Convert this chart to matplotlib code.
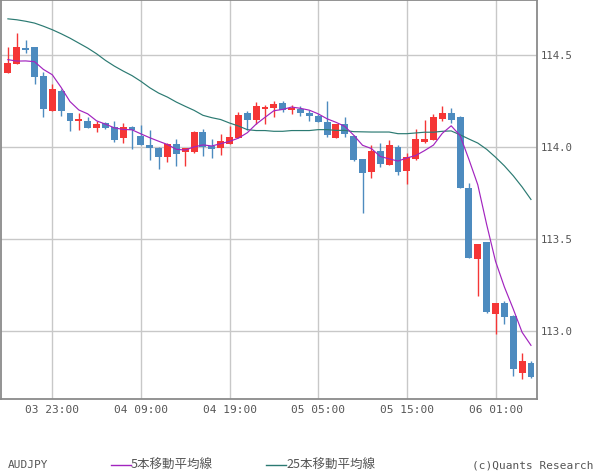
import numpy as np
import matplotlib
matplotlib.use("Agg")
import matplotlib.pyplot as plt
from matplotlib.lines import Line2D

# hourly candles, 03 18:00 .. 06 05:00
opens = [114.404, 114.455, 114.538, 114.545, 114.386, 114.197, 114.306, 114.185, 114.143, 114.141,
         114.105, 114.133, 114.110, 114.053, 114.110, 114.060, 114.013, 113.998, 113.947, 114.016,
         113.976, 113.973, 114.085, 114.005, 113.996, 114.020, 114.053, 114.186, 114.147, 114.208,
         114.212, 114.241, 114.205, 114.208, 114.186, 114.168, 114.140, 114.051, 114.125, 114.064,
         113.935, 113.866, 113.978, 113.902, 114.000, 113.870, 113.935, 114.029, 114.038, 114.152,
         114.185, 114.163, 113.781, 113.393, 113.484, 113.094, 113.152, 113.083, 112.773, 112.828]
highs = [114.545, 114.621, 114.582, 114.545, 114.409, 114.346, 114.319, 114.185, 114.185, 114.165,
         114.143, 114.136, 114.143, 114.132, 114.116, 114.120, 114.092, 114.000, 114.023, 114.045,
         113.995, 114.089, 114.098, 114.043, 114.074, 114.114, 114.194, 114.197, 114.245, 114.230,
         114.253, 114.252, 114.230, 114.223, 114.205, 114.179, 114.250, 114.129, 114.163, 114.065,
         113.935, 114.011, 114.022, 114.038, 114.015, 113.967, 114.098, 114.147, 114.181, 114.224,
         114.212, 114.170, 113.808, 113.473, 113.484, 113.152, 113.163, 113.087, 112.882, 112.837]
lows = [114.404, 114.451, 114.512, 114.346, 114.165, 114.197, 114.170, 114.089, 114.092, 114.103,
        114.083, 114.098, 114.027, 114.023, 113.991, 114.013, 113.929, 113.882, 113.920, 113.897,
        113.897, 113.969, 113.955, 113.942, 113.958, 114.020, 114.053, 114.092, 114.129, 114.129,
        114.165, 114.190, 114.183, 114.172, 114.143, 114.136, 114.056, 114.051, 114.056, 113.926,
        113.641, 113.833, 113.893, 113.902, 113.848, 113.799, 113.929, 114.023, 114.038, 114.141,
        114.130, 113.779, 113.395, 113.192, 113.099, 112.985, 113.040, 112.757, 112.741, 112.743]
closes = [114.458, 114.545, 114.527, 114.382, 114.208, 114.315, 114.197, 114.143, 114.152, 114.105,
          114.125, 114.104, 114.042, 114.110, 114.096, 114.013, 113.998, 113.947, 114.020, 113.966,
          113.995, 114.082, 114.002, 113.988, 114.033, 114.054, 114.174, 114.147, 114.223, 114.219,
          114.234, 114.205, 114.216, 114.186, 114.168, 114.136, 114.067, 114.125, 114.072, 113.929,
          113.860, 113.978, 113.909, 114.011, 113.866, 113.946, 114.043, 114.043, 114.163, 114.185,
          114.149, 113.779, 113.395, 113.473, 113.103, 113.152, 113.078, 112.795, 112.837, 112.750]

ma5 = [114.477, 114.469, 114.470, 114.466, 114.424, 114.395, 114.326, 114.249, 114.203, 114.182,
       114.144, 114.126, 114.106, 114.097, 114.095, 114.073, 114.052, 114.033, 114.015, 113.989,
       113.985, 114.002, 114.013, 114.007, 114.020, 114.032, 114.050, 114.079, 114.126, 114.163,
       114.199, 114.206, 114.219, 114.212, 114.202, 114.182, 114.155, 114.136, 114.114, 114.066,
       114.011, 113.993, 113.950, 113.937, 113.925, 113.942, 113.955, 113.982, 114.012, 114.076,
       114.117, 114.064, 113.934, 113.796, 113.580, 113.380, 113.240, 113.120, 112.993, 112.922]
ma25 = [114.699, 114.694, 114.686, 114.676, 114.659, 114.640, 114.618, 114.594, 114.567, 114.540,
        114.509, 114.473, 114.442, 114.415, 114.390, 114.359, 114.324, 114.295, 114.273, 114.246,
        114.223, 114.201, 114.174, 114.161, 114.151, 114.132, 114.116, 114.096, 114.091, 114.091,
        114.087, 114.087, 114.091, 114.091, 114.091, 114.096, 114.096, 114.092, 114.092, 114.085,
        114.084, 114.083, 114.083, 114.083, 114.074, 114.074, 114.078, 114.082, 114.082, 114.087,
        114.089, 114.068, 114.045, 114.023, 113.989, 113.946, 113.899, 113.845, 113.784, 113.716]

tick_pos = [5, 15, 25, 35, 45, 55]
tick_labels = ['03 23:00', '04 09:00', '04 19:00', '05 05:00', '05 15:00', '06 01:00']
y_ticks = [113.0, 113.5, 114.0, 114.5]

RED = '#f53636'
BLUE = '#4d8bbf'

o = np.array(opens)
c = np.array(closes)
x = np.arange(len(o))
cols = [RED if cc >= oo else BLUE for oo, cc in zip(o, c)]

fig = plt.figure(figsize=(6, 4.75), dpi=100)
ax = fig.add_axes([0.0015, 0.16, 0.8935, 0.839])

ax.vlines(x, lows, highs, colors=cols, linewidth=1.0, zorder=2)
body = np.where(np.abs(c - o) < 0.008, 0.008, c - o)
ax.bar(x, body, bottom=o, width=0.78, color=cols, linewidth=0, zorder=3)

ax.plot(x, ma25, color='#2b7a72', linewidth=0.85, zorder=4)
ax.plot(x, ma5, color='#a224bf', linewidth=0.85, zorder=4)

ax.set_xlim(-0.79, 59.68)
ax.set_ylim(112.63, 114.799)
ax.set_xticks(tick_pos)
ax.set_xticklabels(tick_labels, family='DejaVu Sans Mono', fontsize=8, color='#555555')
ax.yaxis.tick_right()
ax.set_yticks(y_ticks)
ax.set_yticklabels(['%.1f' % v for v in y_ticks], family='DejaVu Sans Mono', fontsize=7.7, color='#555555')
ax.tick_params(length=0, pad=3)
ax.tick_params(axis='x', pad=4)
ax.grid(True, color='#c8c8c8', linewidth=1.0, zorder=0)
ax.set_axisbelow(True)
for s in ax.spines.values():
    s.set_color('#8a8a8a')
    s.set_linewidth(1.3)

# footer
fy = 1 - 465 / 475
fig.text(8 / 600, fy, 'AUDJPY', family='DejaVu Sans Mono', fontsize=8,
         color='#555555', va='center', ha='left')
fig.add_artist(Line2D([111 / 600, 131 / 600], [fy, fy], color='#a224bf', linewidth=1.0))
fig.text(131 / 600, fy, '5本移動平均線', family=['Noto Sans CJK JP', 'DejaVu Sans'],
         fontsize=9, color='#555555', va='center', ha='left')
fig.add_artist(Line2D([266 / 600, 286 / 600], [fy, fy], color='#2b7a72', linewidth=1.0))
fig.text(286 / 600, fy, '25本移動平均線', family=['Noto Sans CJK JP', 'DejaVu Sans'],
         fontsize=9, color='#555555', va='center', ha='left')
fig.text(593 / 600, fy, '(c)Quants Research', family='DejaVu Sans Mono', fontsize=8,
         color='#555555', va='center', ha='right')

fig.savefig('out.png', dpi=100)
